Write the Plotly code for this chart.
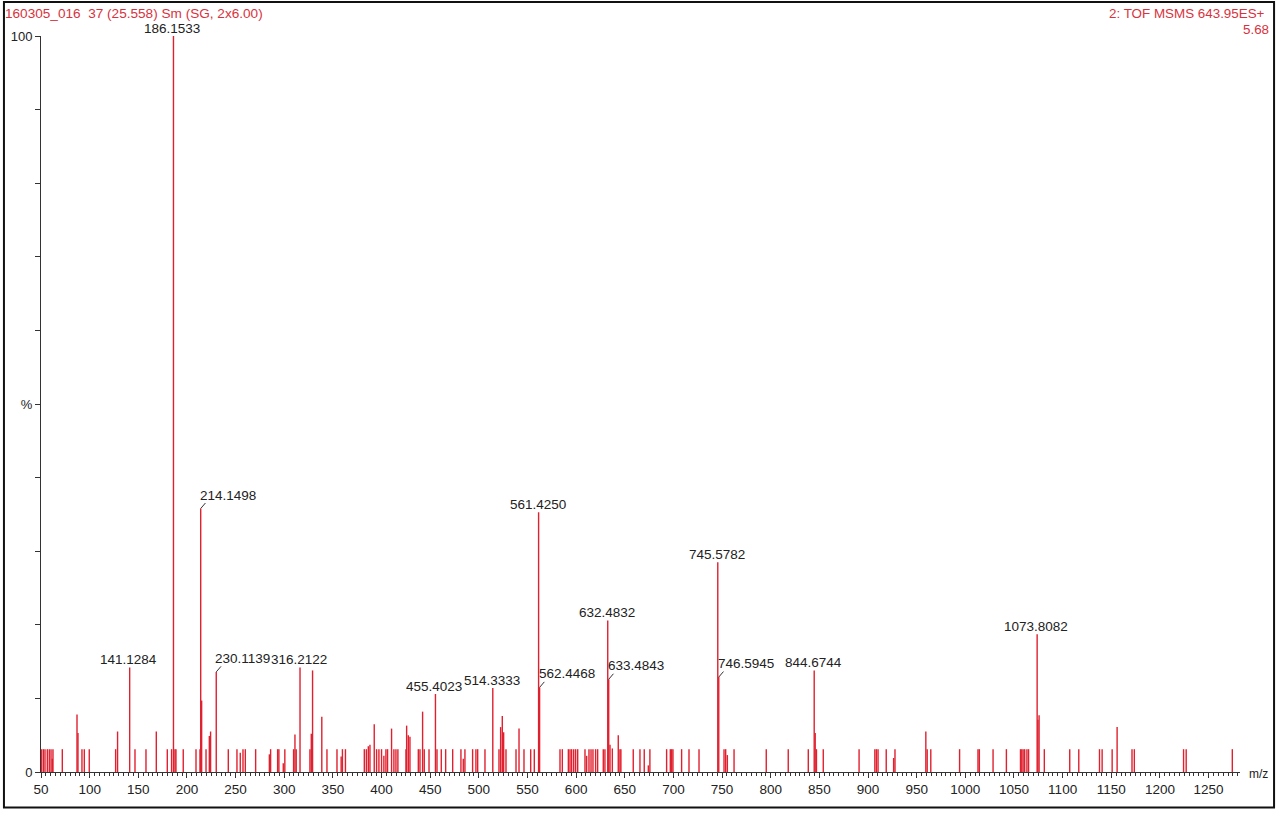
import plotly.graph_objects as go

# ---------------- data ----------------
peak_mz = [
    50.6, 52.4, 54.1, 56.5, 58.5, 60.3, 61.6, 62.3, 71.9, 87.0, 88.0, 92.1, 94.5, 99.6,
    126.7, 128.7, 141.1284, 146.6, 157.9, 168.5, 179.8, 184.2, 186.1533, 187.7, 188.7,
    196.2, 209.3, 213.4, 214.1498, 215.1, 219.6, 223.0, 224.3, 230.1139, 242.5,
    251.4, 254.8, 257.6, 260.0, 270.6, 284.7, 286.0, 293.2, 294.5, 299.0, 300.6,
    309.6, 311.0, 312.3, 316.2122, 326.4, 327.8, 329.1, 338.6, 343.9, 354.2,
    358.5, 359.8, 362.9, 382.3, 384.4, 386.4, 388.1, 392.5, 394.9, 397.3, 400.0,
    402.4, 404.5, 406.2, 410.3, 412.7, 414.8, 416.8, 425.1, 425.8, 427.5, 429.2,
    437.8, 439.5, 442.2, 443.9, 448.8, 455.4023, 457.0, 461.4, 465.9, 473.1,
    481.6, 484.0, 485.7, 493.6, 497.0, 498.8, 506.3, 514.3333, 520.7, 522.4, 524.1,
    525.5, 527.9, 538.2, 541.3, 546.4, 553.3, 557.0, 561.4250, 562.4468,
    583.4, 585.8, 592.0, 593.7, 595.4, 597.5, 599.5, 601.6, 609.1, 610.8, 613.2,
    615.3, 617.3, 620.0, 622.1, 627.9, 629.6, 632.4832, 633.4843, 634.8, 637.2,
    643.3, 645.0, 646.0, 658.7, 665.6, 670.0, 674.2, 675.8, 693.0, 696.8, 698.2,
    699.5, 708.4, 716.0, 726.3, 745.5782, 746.5945, 752.0, 753.7, 755.4, 762.3,
    795.4, 818.0, 838.6, 844.6744, 845.7, 847.0, 854.0, 890.8, 907.0, 908.6, 910.3,
    918.7, 926.3, 927.7, 959.4, 960.8, 964.5, 994.1, 1013.0, 1014.4, 1028.5,
    1042.2, 1056.7, 1058.0, 1059.4, 1061.0, 1063.3, 1065.0, 1073.8082, 1074.6,
    1075.8, 1081.2, 1107.3, 1116.6, 1137.9, 1140.6, 1150.9, 1156.0, 1171.3,
    1173.7, 1224.3, 1227.0, 1274.4,
]
peak_int = [
    3.1, 3.1, 3.1, 3.1, 3.1, 3.1, 1.8, 3.1, 3.1, 7.8, 5.3, 3.1, 3.1, 3.1,
    3.1, 5.5, 14.2, 3.1, 3.1, 5.5, 3.1, 3.1, 100.0, 3.1, 3.1,
    3.1, 3.1, 3.1, 35.8, 9.7, 3.1, 4.9, 5.5, 13.6, 3.1,
    3.1, 2.6, 3.1, 3.1, 3.1, 2.4, 3.1, 3.1, 3.1, 1.2, 3.1,
    3.1, 5.1, 3.1, 14.2, 3.1, 5.2, 13.8, 7.5, 3.1, 3.1,
    2.1, 3.1, 3.1, 3.1, 3.1, 3.5, 3.7, 6.5, 3.1, 3.1, 3.1,
    2.2, 3.1, 3.1, 5.9, 3.1, 3.1, 3.1, 3.1, 6.3, 5.0, 4.8,
    3.1, 3.1, 8.2, 3.1, 3.1, 10.6, 3.1, 3.1, 3.1, 3.1,
    3.1, 1.8, 3.1, 3.1, 3.1, 3.1, 3.1, 11.4, 3.1, 6.1, 7.6,
    5.4, 3.1, 3.1, 5.9, 3.1, 3.1, 3.1, 35.3, 11.5,
    3.1, 3.1, 3.1, 3.1, 3.1, 3.1, 3.1, 3.1, 3.1, 2.2, 3.1,
    3.1, 3.1, 3.1, 3.1, 3.1, 3.1, 20.6, 12.6, 3.7, 3.2,
    5.0, 3.1, 3.1, 3.1, 3.1, 3.1, 0.9, 3.1, 3.1, 3.1, 3.1,
    3.1, 3.1, 3.1, 3.1, 28.5, 12.9, 3.1, 3.1, 2.3, 3.1,
    3.1, 3.1, 3.1, 13.8, 5.3, 3.1, 3.1, 3.1, 3.1, 3.1, 3.1,
    3.1, 1.9, 3.1, 5.5, 3.1, 3.1, 3.1, 3.1, 3.1, 3.1,
    3.1, 3.1, 3.1, 3.1, 3.1, 3.1, 3.1, 18.7, 7.1,
    7.7, 3.1, 3.1, 3.1, 3.1, 3.1, 3.1, 6.1, 3.1,
    3.1, 3.1, 3.1, 3.1,
]

# labelled peaks: plain labels are centred above the peak, leader labels sit up-right
label_mz = [186.1533, 214.1498, 141.1284, 230.1139, 316.2122, 455.4023, 514.3333,
            561.4250, 562.4468, 632.4832, 633.4843, 745.5782, 746.5945, 844.6744, 1073.8082]
label_leader = [False, True, False, True, False, False, False,
                False, True, False, True, False, True, False, False]

y_tickvals = [0, 10, 20, 30, 40, 50, 60, 70, 80, 90, 100]
y_ticktext = ["0", "", "", "", "", "%", "", "", "", "", "100"]

header_left = "160305_016  37 (25.558) Sm (SG, 2x6.00)"
header_right = "2: TOF MSMS 643.95ES+"
header_right2 = "5.68"

# ---------------- figure ----------------
RED = "#e0202e"
HRED = "#d8323e"
TXT = "#222222"
FONT = "Liberation Sans, Arial, sans-serif"

xs, ys = [], []
for m, h in zip(peak_mz, peak_int):
    xs += [m, m, None]
    ys += [0, h, None]

fig = go.Figure()
fig.add_trace(go.Scatter(x=xs, y=ys, mode="lines",
                         line=dict(color=RED, width=1.4),
                         hoverinfo="skip", showlegend=False, cliponaxis=False))

lookup = dict(zip(peak_mz, peak_int))
for m, lead in zip(label_mz, label_leader):
    h = lookup[m]
    txt = f"{m:.4f}"
    if lead:
        fig.add_annotation(x=m, y=h, xref="x", yref="y", text="", showarrow=True,
                           arrowhead=0, arrowwidth=1, arrowcolor="#333333",
                           ax=6, ay=-7)
        fig.add_annotation(x=m, y=h, xref="x", yref="y", text=txt, showarrow=False,
                           xanchor="left", yanchor="bottom", xshift=-2, yshift=5,
                           borderpad=0, font=dict(family=FONT, size=13.5, color=TXT))
    else:
        fig.add_annotation(x=m, y=h, xref="x", yref="y", text=txt, showarrow=False,
                           xanchor="center", yanchor="bottom", xshift=-1, yshift=-1,
                           borderpad=0, font=dict(family=FONT, size=13.5, color=TXT))

# header texts
fig.add_annotation(x=-0.0317, y=1.0299, xref="paper", yref="paper", text=header_left,
                   showarrow=False, xanchor="left", yanchor="middle",
                   font=dict(family=FONT, size=13.6, color=HRED))
fig.add_annotation(x=1.0225, y=1.0299, xref="paper", yref="paper", text=header_right,
                   showarrow=False, xanchor="right", yanchor="middle",
                   font=dict(family=FONT, size=13.4, color=HRED))
fig.add_annotation(x=1.0255, y=1.0095, xref="paper", yref="paper", text=header_right2,
                   showarrow=False, xanchor="right", yanchor="middle",
                   font=dict(family=FONT, size=13.4, color=HRED))
fig.add_annotation(x=1.0058, y=0, xref="paper", yref="paper", text="m/z",
                   showarrow=False, xanchor="left", yanchor="middle", yshift=-2,
                   font=dict(family=FONT, size=12, color=TXT))

# outer frame
fig.add_shape(type="rect", xref="paper", yref="paper",
              x0=-0.0309, x1=1.0284, y0=-0.0482, y1=1.0462,
              line=dict(color="#111111", width=2), fillcolor="rgba(0,0,0,0)")

fig.update_layout(
    width=1280, height=816,
    margin=dict(l=41, r=40, t=36, b=44),
    paper_bgcolor="white", plot_bgcolor="white",
    font=dict(family=FONT, size=13, color=TXT),
    showlegend=False,
    xaxis=dict(range=[50, 1282.3], showgrid=False, zeroline=False,
               showline=True, linecolor="#333333", linewidth=1,
               ticks="outside", ticklen=5, tickcolor="#333333", tickwidth=1,
               dtick=50, tick0=50, tickfont=dict(family=FONT, size=13.5, color=TXT),
               minor=dict(dtick=5, tick0=50, ticks="outside", ticklen=3,
                          tickcolor="#333333", showgrid=False)),
    yaxis=dict(range=[0, 100], showgrid=False, zeroline=False,
               showline=True, linecolor="#333333", linewidth=1,
               ticks="outside", ticklen=5, tickcolor="#333333", tickwidth=1,
               tickvals=y_tickvals, ticktext=y_ticktext,
               tickfont=dict(family=FONT, size=13, color=TXT)),
)

fig.write_html("out.html",
               post_script="document.body.style.margin='0';document.body.style.overflow='hidden';",
               config={"displayModeBar": False})
